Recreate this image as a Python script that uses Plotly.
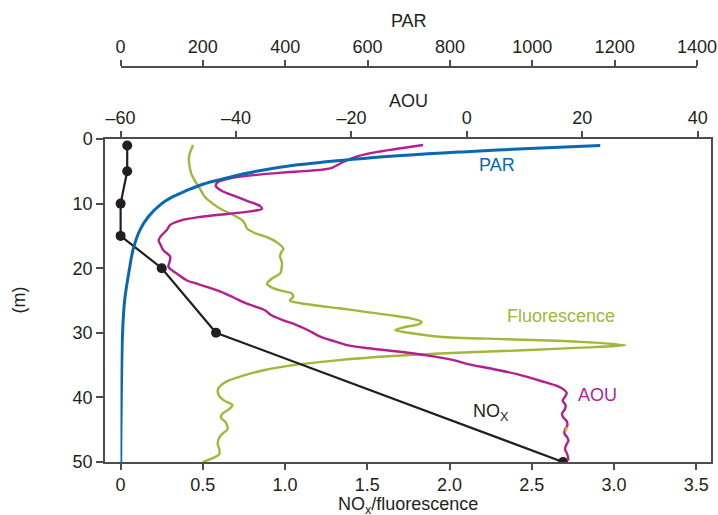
import plotly.graph_objects as go

# ---------------- data ----------------
nox_depth = [1, 5, 10, 15, 20, 30, 50]
nox_vals = [0.04, 0.04, 0.0, 0.0, 0.25, 0.58, 2.69]

par_depth = [1.0, 1.5, 2.0, 3.0, 4.0, 5.0, 6.0, 7.0, 8.0, 9.0, 10, 12, 14, 17, 20, 25, 30, 35, 40, 45, 50]
par_vals = [1165, 980, 830, 590, 430, 330, 260, 200, 160, 125, 100, 68, 48, 31, 22, 10, 5, 3, 2, 1, 0.5]

aou_depth = [0.93, 1.5, 2.0, 2.7, 3.6, 4.5, 4.9, 5.2, 5.6, 6.1, 6.7, 7.3, 8.0, 8.8, 9.6, 10.4, 10.8,
             11.2, 11.6, 12.1, 12.6, 13.3, 14.1, 15.0, 15.7, 16.5, 17.2, 18.2, 19.0, 19.8, 21.0,
             21.9, 22.4, 23.5, 24.5, 25.5, 26.5, 27.2, 28.0, 28.8, 29.6, 30.6, 31.3, 31.9, 32.4,
             32.9, 33.5, 34.2, 34.8, 35.6, 36.4, 37.5, 38.3, 38.8, 39.3, 39.9, 40.5, 41.2, 41.8,
             42.5, 43.1, 43.7, 44.4, 45.0, 45.6, 46.2, 46.7, 47.4, 48.0, 48.8, 49.8]
aou_vals = [-7.6, -12, -15.5, -19, -21.5, -23.5, -27, -32, -37, -41, -43.2, -43.5, -42.5, -40.3,
            -38, -35.8, -35.5, -37.5, -41.5, -46.5, -49.5, -51.4, -52, -53, -53.4, -53, -52.6,
            -51.4, -51.5, -51.7, -50, -48.5, -46.8, -43, -40.5, -38.1, -35, -34, -32, -29.5,
            -27.5, -25.4, -23, -20.8, -17, -12, -7, -2.5, 0, 4.5, 8.7, 13, 15.8, 16.8, 17.3,
            17.0, 16.6, 17.1, 17.0, 16.5, 16.7, 17.3, 17.4, 17.0, 16.9, 17.4, 17.6, 17.2, 17.0,
            17.4, 17.6]
aou_mark_depth = [44.6, 45.3]
aou_mark_vals = [17.35, 17.1]

fl_depth = [0.93, 1.6, 2.2, 3.2, 4.3, 5.4, 6.4, 7.6, 8.9, 10.0, 11.0, 11.5, 12.1, 12.6, 13.1, 13.9,
            14.6, 15.2, 16.0, 17.0, 17.6, 18.3, 19.0, 19.8, 20.8, 21.6, 22.4, 23.0, 23.5, 23.9,
            24.4, 25.0, 25.7, 26.2, 26.8, 27.3, 27.8, 28.3, 28.7, 29.1, 29.6, 30.1, 30.6, 31.0,
            31.4, 31.9, 32.3, 32.7, 33.2, 33.6, 34.3, 35.0, 35.8, 36.6, 37.6, 38.4, 38.9, 39.8,
            40.5, 41.2, 41.8, 42.5, 43.1, 43.9, 44.9, 45.6, 46.2, 47.2, 48.0, 48.8, 49.4, 50.0]
fl_vals = [0.44, 0.43, 0.42, 0.415, 0.42, 0.43, 0.45, 0.48, 0.51, 0.56, 0.62, 0.665, 0.71, 0.74,
           0.755, 0.77, 0.82, 0.89, 0.95, 0.99, 0.975, 0.97, 0.98, 0.98, 0.97, 0.92, 0.89, 0.92,
           0.98, 1.04, 1.05, 1.03, 1.17, 1.33, 1.50, 1.65, 1.77, 1.83, 1.81, 1.73, 1.67, 1.78,
           1.94, 2.35, 2.8, 3.07, 2.8, 2.45, 1.94, 1.65, 1.3, 1.05, 0.87, 0.75, 0.64, 0.6, 0.59,
           0.6, 0.63, 0.68, 0.66, 0.62, 0.61, 0.64, 0.65, 0.62, 0.6, 0.59, 0.6, 0.6, 0.56, 0.5]

bottom_ticks = [0, 0.5, 1.0, 1.5, 2.0, 2.5, 3.0, 3.5]
bottom_labels = ["0", "0.5", "1.0", "1.5", "2.0", "2.5", "3.0", "3.5"]
aou_ticks = [-60, -40, -20, 0, 20, 40]
aou_labels = ["\u201360", "\u201340", "\u201320", "0", "20", "40"]
par_ticks = [0, 200, 400, 600, 800, 1000, 1200, 1400]
depth_ticks = [0, 10, 20, 30, 40, 50]

BLUE = "#0a68b1"
MAGENTA = "#b31f8e"
GREEN = "#a2b63a"
BLACK = "#231f20"
AXC = "#4d4d4d"
FONT = "Liberation Sans, Arial, sans-serif"
FS = 18

W, H = 718, 515
ML, MR, MT, MB = 105, 7, 10, 53
PH = H - MT - MB
PW = W - ML - MR
box_top = 139          # y pixel of depth 0
par_line = 67          # y pixel of the PAR axis line
aou_title_y = 101      # y pixel of the AOU title centre
x_title_y = 505        # y pixel of the bottom-axis title centre
y_title_x = 18         # x pixel of the depth-axis title centre

fig = go.Figure()

fig.add_trace(go.Scatter(x=par_vals, y=par_depth, xaxis="x3", yaxis="y", mode="lines",
                         line=dict(color=BLUE, width=3, shape="spline"), showlegend=False))
fig.add_trace(go.Scatter(x=aou_vals, y=aou_depth, xaxis="x2", yaxis="y", mode="lines",
                         line=dict(color=MAGENTA, width=2.4, shape="spline", smoothing=0.8),
                         showlegend=False))
fig.add_trace(go.Scatter(x=aou_mark_vals, y=aou_mark_depth, xaxis="x2", yaxis="y", mode="lines",
                         line=dict(color="#f2a93b", width=2.4), showlegend=False))
fig.add_trace(go.Scatter(x=fl_vals, y=fl_depth, xaxis="x", yaxis="y", mode="lines",
                         line=dict(color=GREEN, width=2.4, shape="spline", smoothing=0.8),
                         showlegend=False))
fig.add_trace(go.Scatter(x=nox_vals, y=nox_depth, xaxis="x", yaxis="y", mode="lines+markers",
                         line=dict(color=BLACK, width=2.2),
                         marker=dict(color=BLACK, size=10), showlegend=False))

ydom_top = (H - MB - box_top) / PH
common = dict(showgrid=False, zeroline=False, showline=True, linecolor=AXC, linewidth=1.5,
              ticks="outside", tickcolor=AXC, tickwidth=1.5, ticklen=6, automargin=False,
              tickfont=dict(family=FONT, size=FS, color=BLACK))
tfont = dict(family=FONT, size=FS, color=BLACK)

fig.update_layout(
    width=W, height=H,
    margin=dict(l=ML, r=MR, t=MT, b=MB),
    paper_bgcolor="white", plot_bgcolor="rgba(0,0,0,0)",
    font=dict(family=FONT, size=FS, color=BLACK),
    xaxis=dict(range=[-0.095, 3.59], domain=[0, 1], anchor="y", side="bottom",
               tickvals=bottom_ticks, ticktext=bottom_labels,
               **common),
    xaxis2=dict(range=[-62.7, 42.3], overlaying="x", anchor="y", side="top",
                tickvals=aou_ticks, ticktext=aou_labels,
                **common),
    xaxis3=dict(range=[0, 1400], domain=[15.5 / PW, 592 / PW],
                anchor="free", position=(H - MB - par_line) / PH, side="top",
                tickvals=par_ticks,
                title=dict(text="PAR", standoff=4, font=tfont),
                **common),
    yaxis=dict(range=[50, 0], domain=[0, ydom_top], anchor="x", mirror=True,
               tickvals=depth_ticks,
               **{**common, "ticklen": 7}),
    annotations=[
        dict(x=0.5, y=(H - MB - aou_title_y) / PH, xref="paper", yref="paper", text="AOU",
             showarrow=False, yanchor="middle", font=tfont),
        dict(x=0.5, y=(H - MB - x_title_y) / PH, xref="paper", yref="paper",
             text="NO<sub>x</sub>/fluorescence", showarrow=False, yanchor="middle", font=tfont),
        dict(x=(y_title_x - ML) / PW, y=ydom_top / 2, xref="paper", yref="paper", text="(m)",
             textangle=-90, showarrow=False, xanchor="center", yanchor="middle", font=tfont),
        dict(x=2.29, y=4.0, xref="x", yref="y", text="PAR", showarrow=False,
             font=dict(family=FONT, size=FS, color=BLUE)),
        dict(x=2.68, y=27.4, xref="x", yref="y", text="Fluorescence", showarrow=False,
             font=dict(family=FONT, size=FS, color=GREEN)),
        dict(x=2.90, y=39.7, xref="x", yref="y", text="AOU", showarrow=False,
             font=dict(family=FONT, size=FS, color=MAGENTA)),
        dict(x=2.25, y=42.4, xref="x", yref="y", text="NO<sub>X</sub>", showarrow=False,
             font=dict(family=FONT, size=FS, color=BLACK)),
    ],
)

fig.write_html("out.html", config={"displayModeBar": False},
               post_script="document.body.style.margin='0';document.body.style.overflow='hidden';")
